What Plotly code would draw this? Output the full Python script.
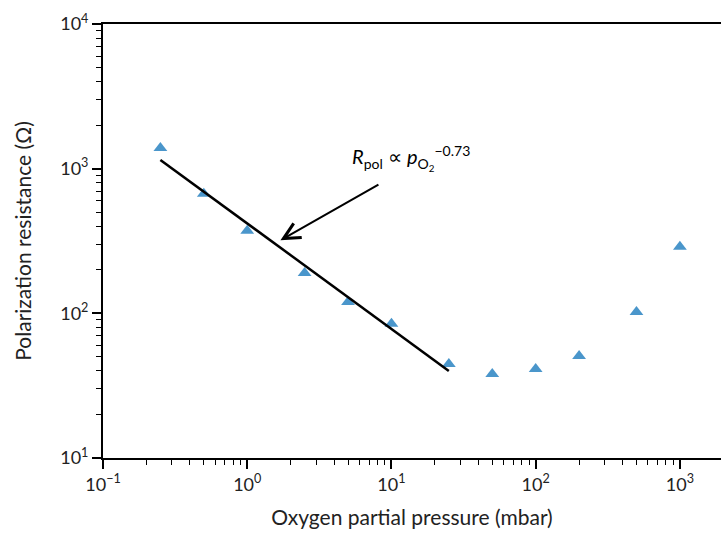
import numpy as np
import plotly.graph_objects as go

# data
pressure = [0.25, 0.5, 1, 2.5, 5, 10, 25, 50, 100, 200, 500, 1000]
resistance = [1390, 671, 373, 190, 120, 84.6, 44.7, 38.1, 41.3, 50.8, 102, 288]
fit_x = [0.25, 25]
fit_y = [1150, 40]
x_tickvals = [0.1, 1, 10, 100, 1000]
x_ticktext = ["10<sup>−1</sup>", "10<sup>0</sup>", "10<sup>1</sup>", "10<sup>2</sup>", "10<sup>3</sup>"]
y_tickvals = [10, 100, 1000, 10000]
y_ticktext = ["10<sup>1</sup>", "10<sup>2</sup>", "10<sup>3</sup>", "10<sup>4</sup>"]

FONT = "Lato"

fig = go.Figure()
fig.add_trace(go.Scatter(x=pressure, y=resistance, mode="markers",
                         marker=dict(symbol="triangle-up", size=12, color="#4a96cb"),
                         showlegend=False))
fig.add_trace(go.Scatter(x=fit_x, y=fit_y, mode="lines",
                         line=dict(color="black", width=2.5), showlegend=False))

fig.add_annotation(x=np.log10(1.7), y=np.log10(320), ax=np.log10(8.32), ay=np.log10(787),
                   xref="x", yref="y", axref="x", ayref="y", text="", showarrow=True,
                   arrowhead=5, arrowsize=1.6, arrowwidth=2, arrowcolor="black")
fig.add_annotation(x=np.log10(13.6), y=np.log10(1190), xref="x", yref="y",
                   text="<i>R</i><sub>pol</sub> ∝ <i>p</i><sub>O<sub>2</sub></sub><sup>−0.73</sup>",
                   showarrow=False, font=dict(family=FONT, size=20, color="black"))

axis_common = dict(type="log", showgrid=False, zeroline=False, showline=True,
                   linecolor="black", linewidth=2, ticks="outside", ticklen=9,
                   tickwidth=1.5, tickcolor="black",
                   tickfont=dict(family=FONT, size=18, color="#222"),
                   minor=dict(ticks="outside", ticklen=5, tickwidth=1.2, tickcolor="black",
                              dtick="D1", showgrid=False))

fig.update_xaxes(**axis_common, range=[-1, 3.285], tickvals=x_tickvals, ticktext=x_ticktext,
                 mirror=True,
                 title=dict(text="Oxygen partial pressure (mbar)", font=dict(family=FONT, size=21, color="#222"),
                            standoff=17))
fig.update_yaxes(**axis_common, range=[1, 4], tickvals=y_tickvals, ticktext=y_ticktext,
                 title=dict(text="Polarization resistance (Ω)", font=dict(family=FONT, size=21, color="#222"),
                            standoff=23))

fig.update_layout(width=721, height=536, margin=dict(l=103, r=0, t=24, b=78),
                  plot_bgcolor="white", paper_bgcolor="white",
                  font=dict(family=FONT, color="#222"))

fig.write_html("out.html")
